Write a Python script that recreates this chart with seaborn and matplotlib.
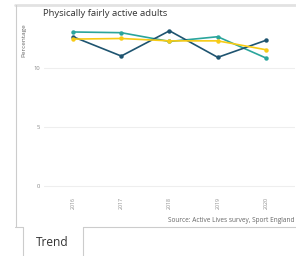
import matplotlib
matplotlib.use("Agg")
import matplotlib.pyplot as plt
import seaborn as sns
import pandas as pd
from matplotlib.lines import Line2D

years = [2016, 2017, 2018, 2019, 2020]
series_a = [13.0, 12.94, 12.2, 12.6, 10.8]   # teal
series_b = [12.6, 10.97, 13.1, 10.86, 12.3]  # dark blue
series_c = [12.4, 12.45, 12.25, 12.25, 11.5] # yellow
names = ["A", "B", "C"]
colors = ["#2aa59c", "#1e5470", "#f7cb15"]
yticks = [0, 5, 10]

sns.set_theme(style="white")
plt.rcParams["font.family"] = ["Open Sans", "DejaVu Sans"]

df = pd.DataFrame({
    "year": years * 3,
    "value": series_a + series_b + series_c,
    "series": [n for n in names for _ in years],
})

fig = plt.figure(figsize=(2.96, 2.56), dpi=100)
ax = fig.add_axes([44/296, 1 - 189.6/256, (295-44)/296, (189.6-22.5)/256])
sns.lineplot(data=df, x="year", y="value", hue="series", palette=colors,
             marker="o", markersize=3.2, markeredgewidth=0, linewidth=1.2,
             ax=ax, legend=False)
ax.set_xlim(2015.4, 2020.6)
ax.set_ylim(-0.3, 13.8)
ax.set_yticks(yticks)
ax.set_xticks(years)
ax.set_xticklabels([str(y) for y in years], rotation=90, fontsize=3.8, color="#888888")
ax.set_yticklabels([str(v) for v in yticks], fontsize=4.2, color="#888888")
ax.tick_params(axis="both", length=0, pad=3)
ax.tick_params(axis="x", pad=5)
ax.grid(axis="y", color="#eeeeee", linewidth=0.8)
ax.grid(axis="x", visible=False)
for s in ax.spines.values():
    s.set_visible(False)
ax.set_xlabel("")
ax.set_ylabel("")

fig.text(43/296, 1 - 14/256, "Physically fairly active adults", fontsize=6.8,
         color="#333333", ha="left", va="center")
fig.text(24/296, 1 - 40.5/256, "Percentage", fontsize=4.6, color="#666666",
         rotation=90, ha="center", va="center")
fig.text(295/296, 1 - 221/256, "Source: Active Lives survey, Sport England",
         fontsize=4.7, color="#666666", ha="right", va="center")
fig.text(52.5/296, 1 - 242/256, "Trend", fontsize=8.6, color="#333333",
         ha="center", va="center")

def fl(x0, y0, x1, y1, color="#cccccc", lw=0.8):
    fig.add_artist(Line2D([x0/296, x1/296], [1 - y0/256, 1 - y1/256],
                          color=color, linewidth=lw))

fl(15, 5, 296, 5, color="#e2e2e2", lw=2.0)
fl(15.5, 5, 15.5, 227)
fl(15, 227, 22.5, 227)
fl(22.5, 227, 22.5, 256)
fl(82.5, 227, 82.5, 256)
fl(82.5, 227, 296, 227)

fig.savefig("out.png", dpi=100)
